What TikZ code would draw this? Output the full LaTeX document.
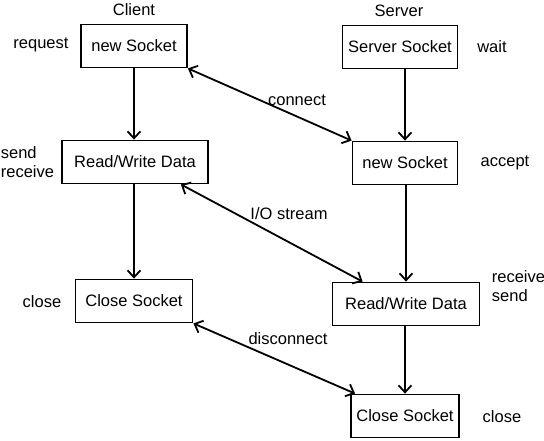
\documentclass[tikz,border=0pt]{standalone}
\usepackage{fontspec}
\setmainfont{Liberation Sans}
\usetikzlibrary{arrows.meta}

\begin{document}
\begin{tikzpicture}[x=1pt,y=-1pt,line width=1.8pt,
	>={Straight Barb[length=7pt,width=13pt]},
	box/.style={draw,inner sep=2pt,minimum height=43pt,font=\fontsize{16.5}{19}\selectfont},
	txt/.style={font=\fontsize{16.5}{19}\selectfont,inner sep=0pt,align=left}]
		\useasboundingbox (0,0) rectangle (544,440);
		
		% client side
		\node[box,minimum width=106pt] (cnew) at (134,46) {new Socket};
		\node[box,minimum width=146pt] (crw) at (135,162) {Read/Write Data};
		\node[box,minimum width=117pt] (cclose) at (134,301) {Close Socket};
		
		% server side
		\node[box,minimum width=115pt] (sserver) at (400,47) {Server Socket};
		\node[box,minimum width=105pt] (snew) at (405,163) {new Socket};
		\node[box,minimum width=147pt] (srw) at (406,304) {Read/Write Data};
		\node[box,minimum width=108pt] (sclose) at (405,416) {Close Socket};
		
		% labels
		\node[txt] (client) at (134,10) {Client};
		\node[txt] (server) at (399,11) {Server};
		\node[txt] (request) at (41,45) {request};
		\node[txt,anchor=west] (csend) at (0,162) {send\\receive};
		\node[txt] (cclosel) at (42,302) {close};
		\node[txt] (wait) at (492,47) {wait};
		\node[txt] (accept) at (505,163) {accept};
		\node[txt,anchor=west] (sreceive) at (491,286) {receive\\send};
		\node[txt] (sclosel) at (502,417) {close};
		\node[txt] (connect) at (297,100) {connect};
		\node[txt] (iostream) at (289,214) {I/O stream};
		\node[txt] (disconnect) at (288,339) {disconnect};
		
		% arrows
		\draw[->] (cnew) -- (cnew |- crw.north);
		\draw[->] (crw.south -| cclose) -- (cclose);
		\draw[->] (sserver.south -| snew.north) -- (snew.north);
		\draw[->] (snew.south -| srw.north) -- (srw.north);
		\draw[->] (srw.south -| sclose.north) -- (sclose.north);
		
		\draw[<->] (cnew.south east) -- (snew.north west);
		\draw[<->] ([xshift=-28pt]crw.south east) -- ([xshift=31pt]srw.north west);
		\draw[<->] (cclose.south east) -- ([xshift=5pt]sclose.north west);
	\end{tikzpicture}
\end{document}
